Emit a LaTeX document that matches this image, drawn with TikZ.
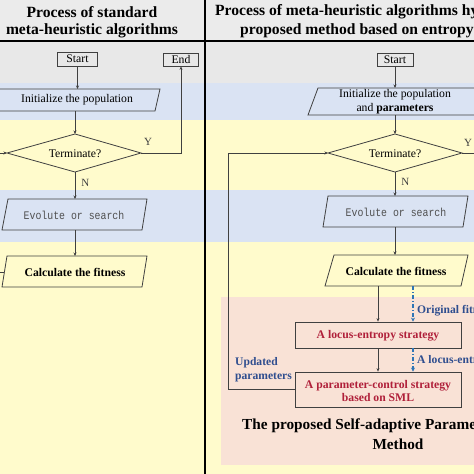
\documentclass[tikz,border=0pt]{standalone}
\usepackage{fontspec}
\setmainfont{Liberation Serif}
\setmonofont{Liberation Mono}
\newfontfamily\evomono[FakeStretch=0.85]{Liberation Mono}
\usetikzlibrary{arrows.meta}
\definecolor{hdr}{HTML}{EBEBEB}
\definecolor{gr}{HTML}{E8E8E8}
\definecolor{bl}{HTML}{DAE3F3}
\definecolor{yl}{HTML}{FFFBCC}
\definecolor{pk}{HTML}{F9E2D6}
\definecolor{ln}{HTML}{404040}
\definecolor{rd}{HTML}{B0203A}
\definecolor{lb}{HTML}{2F4E8F}
\definecolor{da}{HTML}{2E75B6}
\definecolor{mono}{HTML}{505050}
\tikzset{
  shp/.style={draw=ln, line width=0.8pt},
  txt/.style={font=\fontsize{11.7}{14}\selectfont, text=black, inner sep=0pt},
  btxt/.style={font=\fontsize{11.7}{13}\selectfont\bfseries, text=black, inner sep=0pt},
  rtxt/.style={font=\fontsize{11.7}{13}\selectfont\bfseries, text=rd, inner sep=0pt, align=center},
  ltxt/.style={font=\fontsize{11.6}{13}\selectfont\bfseries, text=lb, inner sep=0pt, anchor=west},
  mtxt/.style={font=\fontsize{11.6}{13}\evomono, text=mono, inner sep=0pt},
  hd/.style={font=\fontsize{15.6}{18}\selectfont\bfseries, text=black, inner sep=0pt},
  box/.style={shp, rectangle, inner sep=0pt, font=\fontsize{11.7}{14}\selectfont},
  arr/.style={draw=ln, line width=0.8pt, -{Stealth[length=3.5pt,width=3pt]}},
  darr/.style={draw=da, line width=1.3pt, dash pattern=on 4pt off 2pt on 1pt off 2pt, -{Stealth[length=4pt,width=4pt]}},
  lab/.style={font=\fontsize{11}{13}\selectfont, text=ln, inner sep=0pt}
}
\begin{document}
\begin{tikzpicture}[x=1pt,y=-1pt]
\useasboundingbox (0,0) rectangle (474,474);
\clip (0,0) rectangle (474,474);
% background bands
\fill[hdr] (0,0) rectangle (474,41);
\fill[gr] (0,41) rectangle (474,83);
\fill[bl] (0,83) rectangle (474,120);
\fill[yl] (0,120) rectangle (474,190);
\fill[bl] (0,190) rectangle (474,242);
\fill[yl] (0,242) rectangle (474,474);
\fill[pk] (221,297) rectangle (480,465);
\draw[line width=1.6pt] (0,41) -- (474,41);
\draw[line width=1.6pt] (205,0) -- (205,474);
% headers
\node[hd] (h1) at (92,12) {Process of standard};
\node[hd] (h2) at (92,31) {meta-heuristic algorithms};
\node[hd, anchor=west] (h3) at (215,12) {Process of meta-heuristic algorithms hybridized};
\node[hd, anchor=west] (h4) at (240,31) {proposed method based on entropy};

% ---------- left column ----------
\node[box, fill=gr, minimum width=40pt, minimum height=14pt] (startL) at (77.5,59) {Start};
\node[box, fill=gr, minimum width=35pt, minimum height=13pt] (endL) at (181,59.5) {End};
\filldraw[shp, fill=bl] (-8,111) -- (155,111) -- (160,89) -- (-3,89) -- cycle;
\node[txt] (initL) at (77,100) {Initialize the population};
\coordinate (initLn) at (77.5,89);
\coordinate (initLs) at (75,111);
\filldraw[shp, fill=yl] (75,134) -- (141,153) -- (75,172) -- (7,153) -- cycle;
\coordinate (dLn) at (75,134);
\coordinate (dLe) at (141,153);
\coordinate (dLs) at (75,172);
\coordinate (dLw) at (7,153);
\node[txt] (termL) at (75,154) {Terminate?};
\filldraw[shp, fill=bl] (8,199) -- (147,199) -- (142,230) -- (2,230) -- cycle;
\node[mtxt] (evL) at (74,215) {Evolute or search};
\coordinate (evLn) at (75,199);
\coordinate (evLs) at (75,230);
\filldraw[shp, fill=yl] (7,256) -- (147,256) -- (142,287) -- (2,287) -- cycle;
\node[btxt] (caL) at (75,272) {Calculate the fitness};
\coordinate (caLn) at (75,256);
\coordinate (caLw) at (4.4,272);
\coordinate (caLx) at (0,272);
\coordinate (linL) at (0,153);
\coordinate (yL) at (181,153);

\draw[arr] (startL.south) -- (initLn);
\draw[arr] (initLs) -- (dLn);
\draw[arr] (dLs) -- node[lab, right=6pt, pos=0.4] (nL) {N} (evLn);
\draw[arr] (evLs) -- (caLn);
\draw[arr] (dLe) -- (yL) -- (endL.south);
\node[lab] (yLl) at (148,142) {Y};
\draw[arr] (linL) -- (dLw);
\draw[shp] (caLx) -- (caLw);

% ---------- right column ----------
\node[box, fill=gr, minimum width=36pt, minimum height=13pt] (startR) at (395,59.5) {Start};
\filldraw[shp, fill=bl] (308,115) -- (478,115) -- (488,88) -- (318,88) -- cycle;
\node[txt, align=center] (initR) at (395,102) {Initialize the population\\and \textbf{parameters}};
\coordinate (initRn) at (395,88);
\coordinate (initRs) at (395,115);
\filldraw[shp, fill=yl] (395,134) -- (462,153) -- (395,172) -- (328,153) -- cycle;
\coordinate (dRn) at (395,134);
\coordinate (dRe) at (462,153);
\coordinate (dRs) at (395,172);
\coordinate (dRw) at (328,153);
\node[txt] (termR) at (395,154) {Terminate?};
\coordinate (yR) at (480,153);
\node[lab] (yRl) at (468,143) {Y};
\filldraw[shp, fill=bl] (328,196) -- (468,196) -- (463,227) -- (323,227) -- cycle;
\node[mtxt] (evR) at (396,212) {Evolute or search};
\coordinate (evRn) at (395,196);
\coordinate (evRs) at (395,227);
\filldraw[shp, fill=yl] (334,255) -- (468,255) -- (461,286) -- (325,286) -- cycle;
\node[btxt] (caR) at (396,271) {Calculate the fitness};
\coordinate (caRn) at (395,255);
\coordinate (caRs1) at (378,286);
\coordinate (caRs2) at (413,286);

\node[box, fill=pk, minimum width=166pt, minimum height=26pt] (locus) at (378,335) {};
\node[rtxt] (locusT) at (378,336) {A locus-entropy strategy};
\node[box, fill=pk, minimum width=166pt, minimum height=35pt] (param) at (378,389.5) {};
\node[rtxt] (paramT) at (378,391) {A parameter-control strategy\\based on SML};

\draw[arr] (startR.south) -- (initRn);
\draw[arr] (initRs) -- (dRn);
\draw[arr] (dRs) -- node[lab, right=6pt, pos=0.4] (nR) {N} (evRn);
\draw[arr] (evRs) -- (caRn);
\draw[shp] (dRe) -- (yR);
\draw[arr] (caRs1) -- (caRs1 |- locus.north);
\draw[arr] (locus.south -| caRs1) -- (caRs1 |- param.north);
\draw[darr] (caRs2) -- (caRs2 |- locus.north);
\draw[darr] (locus.south -| caRs2) -- (caRs2 |- param.north);
\coordinate (loopB) at (228,389.5);
\coordinate (loopT) at (228,153);
\draw[arr] (param.west) -- (loopB) -- (loopT) -- (dRw);

\node[ltxt] (of) at (417,311) {Original fitness};
\node[ltxt] (le) at (417,361) {A locus-entropy};
\node[ltxt] (up1) at (235,363) {Updated};
\node[ltxt] (up2) at (235,377) {parameters};
\node[hd, font=\fontsize{15.3}{18}\selectfont\bfseries, anchor=west] (big1) at (242,426) {The proposed Self-adaptive Parameter};
\node[hd, font=\fontsize{15.3}{18}\selectfont\bfseries] (big2) at (398,444) {Method};
\end{tikzpicture}
\end{document}
